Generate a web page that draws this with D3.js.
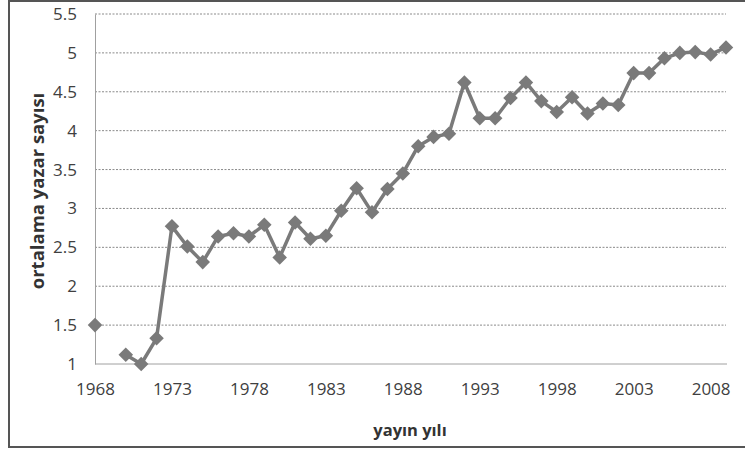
<!DOCTYPE html>
<html>
<head>
<meta charset="utf-8">
<script src="https://cdn.jsdelivr.net/npm/d3@7"></script>
<style>
body { margin: 0; background: #fff; }
svg { display: block; }
text { font-family: "Open Sans", "Liberation Sans", sans-serif; }
</style>
</head>
<body>
<svg id="chart" width="745" height="449"></svg>
<script>
const years = d3.range(1968, 2010);
const values = [1.5, null, 1.12, 1.0, 1.33, 2.77, 2.51, 2.31, 2.64, 2.68,
  2.64, 2.79, 2.37, 2.82, 2.61, 2.65, 2.97, 3.26, 2.95, 3.25,
  3.45, 3.80, 3.92, 3.96, 4.62, 4.16, 4.16, 4.42, 4.62, 4.38,
  4.24, 4.43, 4.22, 4.35, 4.33, 4.74, 4.74, 4.93, 5.0, 5.01,
  4.98, 5.07];
const yTicks = [1, 1.5, 2, 2.5, 3, 3.5, 4, 4.5, 5, 5.5];
const xTickYears = [1968, 1973, 1978, 1983, 1988, 1993, 1998, 2003, 2008];
const yLabel = "ortalama yazar sayısı";
const xLabel = "yayın yılı";

const data = years.map((y, i) => ({ year: y, value: values[i] }));

const svg = d3.select("#chart");
const x = d3.scaleLinear().domain([1968, 2009]).range([95, 726]);
const y = d3.scaleLinear().domain([1, 5.5]).range([364, 14]);

// outer frame
svg.append("rect").attr("x", 9).attr("y", 1).attr("width", 760).attr("height", 446)
  .attr("fill", "none").attr("stroke", "#555").attr("stroke-width", 2);

// gridlines
svg.append("g").selectAll("line").data(yTicks.filter(t => t > 1)).join("line")
  .attr("x1", 95).attr("x2", 726)
  .attr("y1", d => y(d)).attr("y2", d => y(d))
  .attr("stroke", "#8a8a8a").attr("stroke-width", 1).attr("stroke-dasharray", "2,1.5");

// axes
const yAxis = d3.axisLeft(y).tickValues(yTicks).tickSize(0).tickPadding(18).tickFormat(d3.format("~g"));
const gy = svg.append("g").attr("transform", "translate(95,0)").call(yAxis);
gy.select(".domain").attr("stroke", "#a0a0a0");
gy.selectAll("text").attr("font-size", 17).attr("fill", "#404040");

const xAxis = d3.axisBottom(x).tickValues(xTickYears).tickSize(0).tickPadding(19).tickFormat(d3.format("d"));
const gx = svg.append("g").attr("transform", "translate(0,364)").call(xAxis);
gx.select(".domain").attr("stroke", "#a0a0a0").attr("d", "M95,0H727");
gx.selectAll("text").attr("font-size", 17).attr("fill", "#404040");

// line
const line = d3.line().defined(d => d.value !== null)
  .x(d => x(d.year)).y(d => y(d.value));
svg.append("path").datum(data).attr("d", line)
  .attr("fill", "none").attr("stroke", "#7a7a7a").attr("stroke-width", 3.5).attr("stroke-linejoin", "round");

// markers
const sym = d3.symbol().type(d3.symbolDiamond2).size(135);
svg.append("g").selectAll("path").data(data.filter(d => d.value !== null)).join("path")
  .attr("d", sym)
  .attr("transform", d => `translate(${x(d.year)},${y(d.value)})`)
  .attr("fill", "#7a7a7a");

// titles
svg.append("text").attr("transform", "translate(44,191) rotate(-90)")
  .attr("text-anchor", "middle").attr("font-size", 18.5).attr("font-weight", "bold")
  .attr("fill", "#333").text(yLabel);
svg.append("text").attr("x", 410).attr("y", 436)
  .attr("text-anchor", "middle").attr("font-size", 16.5).attr("font-weight", "bold")
  .attr("fill", "#333").text(xLabel);
</script>
</body>
</html>
